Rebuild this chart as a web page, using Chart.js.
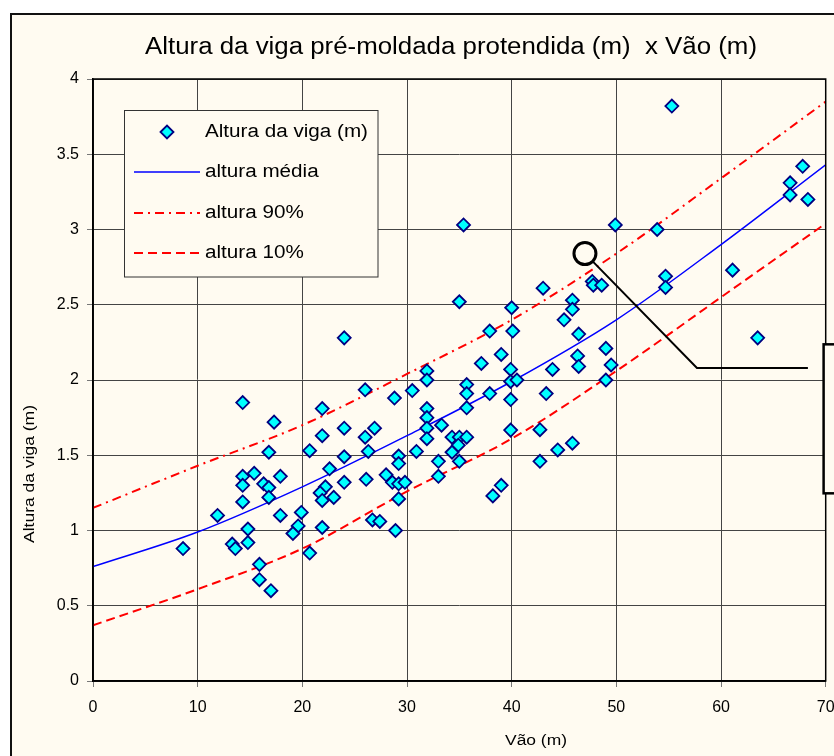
<!DOCTYPE html>
<html>
<head>
<meta charset="utf-8">
<script src="https://cdn.jsdelivr.net/npm/chart.js@4.4.1/dist/chart.umd.min.js"></script>
<style>
  html, body { margin: 0; padding: 0; background: #fff; }
  canvas { display: block; }
</style>
</head>
<body>
<canvas id="vigaChart" width="834" height="756"></canvas>
<script>
// vão (m) x altura da viga (m)
const vaoX = [
  14.3, 17.3, 16.8, 20.7, 14.3, 15.4, 17.9, 14.3, 16.3, 16.8, 16.8, 14.3, 11.9, 17.9, 19.9, 19.6, 19.1, 14.8, 14.8, 13.3, 13.6, 8.6, 15.9, 15.9, 17.0, 20.7,
  24.0, 37.9, 40.1, 39.0, 37.1, 31.9, 31.9, 39.9, 39.9, 40.5, 35.7, 35.7, 37.9, 26.0, 30.5, 28.8, 39.9, 21.9, 31.9, 35.7, 31.9, 31.9, 31.9, 33.3,
  24.0, 26.9, 21.9, 26.0, 34.3, 35.0, 35.7, 39.9, 34.9, 34.3, 26.3, 30.9, 24.0, 29.2, 29.2, 33.0, 35.0, 22.6, 33.0, 28.0, 26.1, 24.0, 28.6, 29.2,
  29.8, 39.0, 38.2, 22.2, 21.7, 21.9, 23.0, 29.2, 21.9, 26.7, 27.4, 28.9,
  35.4, 49.9, 53.9, 43.0, 47.7, 47.8, 48.6, 35.0, 40.0, 45.8, 45.8, 45.0, 46.4, 49.0, 46.3, 46.4, 49.5, 49.0, 43.9, 43.3, 42.7, 44.4, 45.8, 42.7,
  55.3, 67.8, 66.6, 66.6, 68.3, 61.1, 54.7, 54.7, 63.5
];
const alturaY = [
  1.85, 1.72, 1.52, 1.53, 1.36, 1.38, 1.36, 1.30, 1.31, 1.285, 1.22, 1.19, 1.10, 1.10, 1.12, 1.03, 0.98, 1.01, 0.92, 0.91, 0.88, 0.88, 0.775, 0.673, 0.60, 0.85,
  2.28, 2.325, 2.325, 2.17, 2.11, 2.06, 2.00, 2.07, 1.99, 2.00, 1.97, 1.91, 1.91, 1.935, 1.93, 1.88, 1.87, 1.81, 1.81, 1.815, 1.75, 1.68, 1.61, 1.70,
  1.68, 1.68, 1.63, 1.62, 1.62, 1.62, 1.62, 1.667, 1.567, 1.52, 1.525, 1.525, 1.49, 1.495, 1.445, 1.46, 1.46, 1.41, 1.36, 1.37, 1.34, 1.32, 1.32, 1.31,
  1.32, 1.30, 1.23, 1.29, 1.25, 1.20, 1.22, 1.21, 1.02, 1.07, 1.06, 1.00,
  3.03, 3.03, 3.00, 2.61, 2.655, 2.63, 2.63, 2.52, 2.48, 2.53, 2.47, 2.40, 2.305, 2.21, 2.16, 2.09, 2.10, 2.00, 2.07, 1.91, 1.67, 1.535, 1.58, 1.46,
  3.82, 3.42, 3.31, 3.23, 3.20, 2.73, 2.69, 2.615, 2.28
];

// curvas: média, 90% e 10%
const curvaX = [0, 10, 20, 30, 40, 50, 60, 70];
const mediaY = [0.76, 0.99, 1.29, 1.63, 1.99, 2.40, 2.90, 3.43];
const p90Y = [1.15, 1.43, 1.70, 2.04, 2.40, 2.84, 3.34, 3.85];
const p10Y = [0.37, 0.61, 0.88, 1.26, 1.61, 2.06, 2.55, 3.04];

const xTicks = [0, 10, 20, 30, 40, 50, 60, 70];
const yTicks = [0, 0.5, 1, 1.5, 2, 2.5, 3, 3.5, 4];

const CREAM = "#FFFBF1";
const FONT = '"Liberation Sans", Arial, sans-serif';

const pairs = (xs, ys) => xs.map((x, i) => ({ x: x, y: ys[i] }));

// texto esticado na horizontal (o original tem letras mais largas)
function stretchText(ctx, text, x, y, size, width, align) {
  ctx.save();
  ctx.font = size + "px " + FONT;
  const w = ctx.measureText(text).width;
  const sx = width ? width / w : 1;
  ctx.translate(x, y);
  ctx.scale(sx, 1);
  ctx.textAlign = align || "center";
  ctx.textBaseline = "middle";
  ctx.fillStyle = "#000";
  ctx.fillText(text, 0, 0);
  ctx.restore();
  return sx;
}

const frame = {
  id: "frame",
  beforeDraw(chart) {
    const ctx = chart.ctx;
    ctx.save();
    ctx.fillStyle = "#fff";
    ctx.fillRect(0, 0, chart.width, chart.height);
    ctx.fillStyle = CREAM;
    ctx.fillRect(11, 14, chart.width, chart.height);
    ctx.strokeStyle = "#111";
    ctx.lineWidth = 2;
    ctx.strokeRect(11, 14, chart.width + 10, chart.height + 10);
    ctx.restore();
  },
  afterDraw(chart) {
    const ctx = chart.ctx;
    const a = chart.chartArea;
    const xs = chart.scales.x, ys = chart.scales.y;
    ctx.save();
    // borda da área do gráfico
    ctx.strokeStyle = "#000";
    ctx.lineWidth = 1.5;
    ctx.strokeRect(a.left, a.top, a.right - a.left, a.bottom - a.top);

    // títulos
    stretchText(ctx, "Altura da viga pré-moldada protendida (m)  x Vão (m)", 451, 48, 23, 612);
    stretchText(ctx, "Vão (m)", 536, 741, 14, 62);
    ctx.save();
    ctx.translate(30, 474);
    ctx.rotate(-Math.PI / 2);
    stretchText(ctx, "Altura da viga (m)", 0, 0, 14, 138);
    ctx.restore();

    // marcação (círculo e chamada)
    const cx = xs.getPixelForValue(47.0), cy = ys.getPixelForValue(2.84);
    ctx.strokeStyle = "#000";
    ctx.lineWidth = 3;
    ctx.beginPath();
    ctx.arc(cx, cy, 11, 0, Math.PI * 2);
    ctx.stroke();
    ctx.lineWidth = 2;
    ctx.beginPath();
    ctx.moveTo(cx + 8, cy + 8);
    ctx.lineTo(xs.getPixelForValue(57.7), ys.getPixelForValue(2.08));
    ctx.lineTo(xs.getPixelForValue(68.3), ys.getPixelForValue(2.08));
    ctx.stroke();
    // caixa de texto cortada à direita
    const bx = xs.getPixelForValue(69.8);
    const bt = ys.getPixelForValue(2.237), bb = ys.getPixelForValue(1.247);
    ctx.fillStyle = CREAM;
    ctx.fillRect(bx, bt, 40, bb - bt);
    ctx.lineWidth = 2.5;
    ctx.strokeRect(bx, bt, 40, bb - bt);

    // legenda
    const lx = 124.5, ly = 110.5, lw = 253.5, lh = 166.5;
    ctx.fillStyle = CREAM;
    ctx.fillRect(lx, ly, lw, lh);
    ctx.strokeStyle = "#333";
    ctx.lineWidth = 1;
    ctx.strokeRect(lx, ly, lw, lh);
    const rows = [132, 172, 213, 253];
    const ds = chart.data.datasets;
    // marcador losango
    ctx.beginPath();
    ctx.moveTo(167 - 6.5, rows[0]);
    ctx.lineTo(167, rows[0] - 6.5);
    ctx.lineTo(167 + 6.5, rows[0]);
    ctx.lineTo(167, rows[0] + 6.5);
    ctx.closePath();
    ctx.fillStyle = ds[0].backgroundColor;
    ctx.fill();
    ctx.strokeStyle = ds[0].borderColor;
    ctx.lineWidth = 1.8;
    ctx.stroke();
    for (let i = 1; i < 4; i++) {
      ctx.beginPath();
      ctx.setLineDash(ds[i].borderDash || []);
      ctx.strokeStyle = ds[i].borderColor;
      ctx.lineWidth = ds[i].borderWidth;
      ctx.moveTo(134, rows[i]);
      ctx.lineTo(200, rows[i]);
      ctx.stroke();
    }
    ctx.setLineDash([]);
    const sx = stretchText(ctx, ds[0].label, 205, rows[0], 18, 163, "left");
    for (let i = 1; i < 4; i++) {
      ctx.save();
      ctx.font = "18px " + FONT;
      const w = ctx.measureText(ds[i].label).width * sx;
      ctx.restore();
      stretchText(ctx, ds[i].label, 205, rows[i], 18, w, "left");
    }
    ctx.restore();
  }
};

new Chart(document.getElementById("vigaChart"), {
  type: "scatter",
  data: {
    datasets: [
      {
        label: "Altura da viga (m)",
        data: pairs(vaoX, alturaY),
        pointStyle: "rectRot",
        pointRadius: 6.5,
        backgroundColor: "#00FFFF",
        borderColor: "#000080",
        borderWidth: 1.8,
        order: 0
      },
      {
        label: "altura média",
        type: "line",
        data: pairs(curvaX, mediaY),
        borderColor: "#0000FF",
        borderWidth: 1.5,
        pointRadius: 0,
        cubicInterpolationMode: "monotone",
        order: 1
      },
      {
        label: "altura 90%",
        type: "line",
        data: pairs(curvaX, p90Y),
        borderColor: "#FF0000",
        borderWidth: 2,
        borderDash: [9, 5, 2, 5],
        pointRadius: 0,
        cubicInterpolationMode: "monotone",
        order: 1
      },
      {
        label: "altura 10%",
        type: "line",
        data: pairs(curvaX, p10Y),
        borderColor: "#FF0000",
        borderWidth: 2,
        borderDash: [9, 5],
        pointRadius: 0,
        cubicInterpolationMode: "monotone",
        order: 1
      }
    ]
  },
  options: {
    responsive: false,
    animation: false,
    devicePixelRatio: 1,
    layout: { padding: { left: 0, top: 79, right: 8.3, bottom: 0 } },
    plugins: {
      legend: { display: false },
      tooltip: { enabled: false },
      title: { display: false }
    },
    scales: {
      x: {
        type: "linear",
        min: 0,
        max: 70,
        afterFit: (s) => { s.height = 75; s.paddingLeft = 0; s.paddingRight = 0; },
        afterBuildTicks: (s) => { s.ticks = xTicks.map(v => ({ value: v })); },
        ticks: { color: "#000", font: { family: FONT, size: 16 }, padding: 11, callback: (v) => String(v) },
        grid: { color: "#444", lineWidth: 1, tickLength: 6, tickColor: "#777" },
        border: { color: "#000", width: 1.5 }
      },
      y: {
        type: "linear",
        min: 0,
        max: 4,
        afterFit: (s) => { s.width = 93; s.paddingTop = 0; s.paddingBottom = 0; },
        afterBuildTicks: (s) => { s.ticks = yTicks.map(v => ({ value: v })); },
        ticks: { color: "#000", font: { family: FONT, size: 16 }, padding: 8, callback: (v) => String(v) },
        grid: { color: "#444", lineWidth: 1, tickLength: 6, tickColor: "#777" },
        border: { color: "#000", width: 1.5 }
      }
    }
  },
  plugins: [frame]
});
</script>
</body>
</html>
